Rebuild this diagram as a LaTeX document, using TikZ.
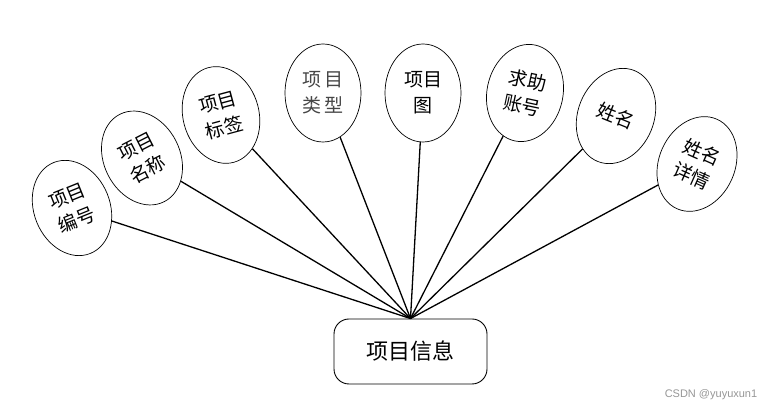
\documentclass[tikz,border=0pt]{standalone}
\usepackage{fontspec}
\usetikzlibrary{shapes.geometric}
\newfontfamily\cjk{Noto Sans CJK SC}
\newfontfamily\wmfont{Liberation Sans}
\definecolor{wmgray}{RGB}{150,150,150}
\definecolor{softtext}{RGB}{70,70,70}
\tikzset{
  attr/.style={ellipse, draw=black, line width=0.7pt, fill=white,
    minimum width=76pt, minimum height=98pt, inner sep=0pt,
    align=center, font=\cjk\fontsize{19}{26}\selectfont},
  entity/.style={rectangle, rounded corners=15pt, draw=black, line width=0.9pt,
    fill=white, minimum width=153pt, minimum height=65pt, inner sep=0pt,
    font=\cjk\fontsize{22}{26}\selectfont},
  link/.style={draw=black, line width=1.3pt}
}
\begin{document}
\begin{tikzpicture}[x=1pt,y=1pt]
\useasboundingbox (0,0) rectangle (780,412);
\node[entity] (info) at (410.5,60.5) {项目信息};
\node[attr, rotate=22]  (e1) at (72,204)  {项目\\编号};
\node[attr, rotate=27]  (e2) at (142,254) {项目\\名称};
\node[attr, rotate=15]  (e3) at (221,297) {项目\\标签};
\node[attr, text=softtext] (e4) at (323,319) {项\,目\\类\,型};
\node[attr]             (e5) at (423,319) {项目\\图};
\node[attr, rotate=-12] (e6) at (525,319) {求助\\账号};
\node[attr, rotate=-22] (e7) at (616,296) {姓名};
\node[attr, rotate=-24] (e8) at (697,248) {姓名\\详情};
\foreach \e in {e1,e2,e3,e4,e5,e6,e7,e8}
  \draw[link] (info.north) -- (\e);
\node[font=\wmfont\fontsize{11}{13}\selectfont, text=wmgray, inner sep=0pt] (wm) at (711,17) {CSDN @yuyuxun1};
\end{tikzpicture}
\end{document}
